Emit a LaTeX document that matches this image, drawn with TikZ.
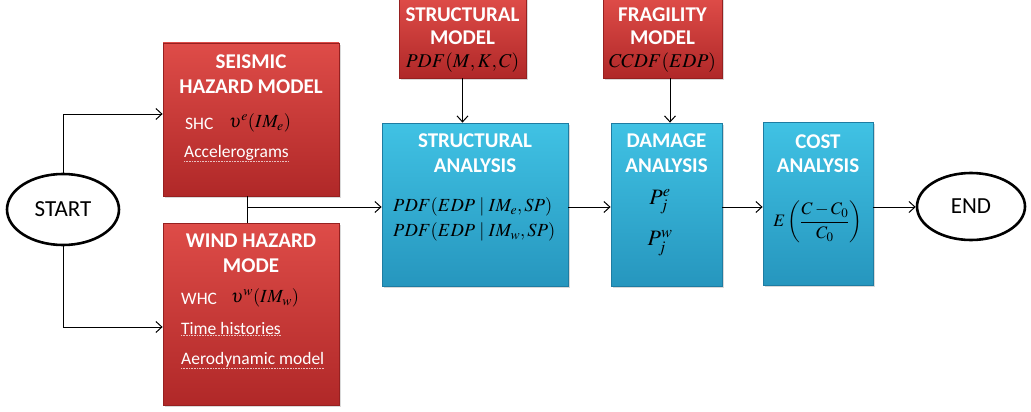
\documentclass[tikz,border=0pt]{standalone}
\usepackage{mathptmx}
\usepackage{fontspec}
\setmainfont{Carlito}
\usetikzlibrary{arrows.meta,shadows,shapes.geometric}

\definecolor{redtop}{RGB}{222,76,72}
\definecolor{redbot}{RGB}{176,40,40}
\definecolor{redline}{RGB}{150,32,32}
\definecolor{bluetop}{RGB}{64,194,228}
\definecolor{bluebot}{RGB}{38,150,190}
\definecolor{blueline}{RGB}{30,124,162}

\begin{document}
\begin{tikzpicture}[x=1pt,y=-1pt,
  redbox/.style={rectangle, inner sep=0pt, top color=redtop, bottom color=redbot,
    draw=redline, line width=0.8pt,
    drop shadow={opacity=0.3, shadow xshift=1.5pt, shadow yshift=-2pt}},
  bluebox/.style={rectangle, inner sep=0pt, top color=bluetop, bottom color=bluebot,
    draw=blueline, line width=0.8pt,
    drop shadow={opacity=0.3, shadow xshift=1.5pt, shadow yshift=-2pt}},
  term/.style={ellipse, draw=black, line width=2.6pt, fill=white, inner sep=0pt,
    font=\fontsize{23}{26}\selectfont},
  ttl/.style={text=white, font=\fontsize{21}{24}\bfseries\selectfont, inner sep=0pt},
  lbl/.style={text=white, font=\fontsize{17.5}{20}\selectfont, inner sep=0pt, anchor=west},
  mth/.style={text=black, font=\fontsize{18.5}{21}\selectfont, inner sep=0pt},
  uline/.style={white, densely dotted, line width=0.6pt, opacity=0.7},
  conn/.style={draw=black, line width=1pt},
  arr/.style={conn, -{Straight Barb[length=6pt,width=11pt]}}
]
\useasboundingbox (0,0) rectangle (1031,412);

% boxes
\node[redbox, minimum width=176pt, minimum height=153pt] (seis) at (251,119.5) {};
\node[redbox, minimum width=176pt, minimum height=182pt] (wind) at (251,314) {};
\node[redbox, minimum width=127pt, minimum height=80pt] (smod) at (462.5,38) {};
\node[redbox, minimum width=119pt, minimum height=80pt] (fmod) at (662.5,38) {};
\node[bluebox, minimum width=186pt, minimum height=163pt] (sa) at (475,204.5) {};
\node[bluebox, minimum width=111pt, minimum height=163pt] (da) at (666.5,204.5) {};
\node[bluebox, minimum width=110pt, minimum height=163pt] (ca) at (818,203.5) {};

\node[term, minimum width=112pt, minimum height=71pt] (start) at (63,209.5) {START};
\node[term, minimum width=108pt, minimum height=67pt] (end) at (971,206.5) {END};

% seismic text
\node[ttl] (seisT1) at (251,62) {SEISMIC};
\node[ttl] (seisT2) at (251,87) {HAZARD MODEL};
\node[lbl] (shc) at (185,124) {SHC};
\node[mth, anchor=west] (shcm) at (229,123) {$\upsilon^{e}(IM_{e})$};
\node[lbl] (acc) at (184,153) {Accelerograms};
\draw[uline] ([yshift=-1pt]acc.south west) -- ([yshift=-1pt]acc.south east);

% wind text
\node[ttl] (windT1) at (251,241) {WIND HAZARD};
\node[ttl] (windT2) at (251,266) {MODE};
\node[lbl] (whc) at (181,299) {WHC};
\node[mth, anchor=west] (whcm) at (231,298) {$\upsilon^{w}(IM_{w})$};
\node[lbl] (th) at (181,328) {Time histories};
\node[lbl] (aero) at (181,360) {Aerodynamic model};
\draw[uline] ([yshift=-1pt]th.south west) -- ([yshift=-1pt]th.south east);
\draw[uline] ([yshift=-1pt]aero.south west) -- ([yshift=-1pt]aero.south east);

% structural model text
\node[ttl] (smT1) at (462.5,15) {STRUCTURAL};
\node[ttl] (smT2) at (462.5,38) {MODEL};
\node[mth, font=\fontsize{19.5}{22}\selectfont] (smM) at (462.5,63) {$PDF(M,K,C)$};

% fragility model text
\node[ttl] (fmT1) at (662.5,15) {FRAGILITY};
\node[ttl] (fmT2) at (662.5,38) {MODEL};
\node[mth, font=\fontsize{19.5}{22}\selectfont] (fmM) at (662.5,63) {$CCDF(EDP)$};

% structural analysis text
\node[ttl] (saT1) at (475,141) {STRUCTURAL};
\node[ttl] (saT2) at (475,166) {ANALYSIS};
\node[mth, anchor=west] (saM1) at (393,207) {$PDF(EDP\mid IM_{e},SP)$};
\node[mth, anchor=west] (saM2) at (393,232) {$PDF(EDP\mid IM_{w},SP)$};

% damage analysis text
\node[ttl] (daT1) at (666.5,141) {DAMAGE};
\node[ttl] (daT2) at (666.5,166) {ANALYSIS};
\node[mth, font=\fontsize{22}{24}\selectfont] (daM1) at (660,202) {$P_{j}^{e}$};
\node[mth, font=\fontsize{22}{24}\selectfont] (daM2) at (660,243) {$P_{j}^{w}$};

% cost analysis text
\node[ttl] (caT1) at (818,142) {COST};
\node[ttl] (caT2) at (818,166) {ANALYSIS};
\node[mth, font=\fontsize{17.5}{20}\selectfont] (caM) at (818,222) {$\displaystyle E\left(\frac{C-C_{0}}{C_{0}}\right)$};

% connectors
\coordinate (j) at (247,207);
\draw[arr] (start.north) |- ([yshift=5.5pt]seis.west);
\draw[arr] (start.south) |- ([yshift=-13pt]wind.west);
\draw[conn] ([xshift=-4pt]seis.south) -- ([xshift=-4pt]wind.north);
\draw[arr] (j) -- (sa.west |- j);
\draw[arr] (smod.south) -- (smod.south |- sa.north);
\draw[arr] ([xshift=7.5pt]fmod.south) -- ([xshift=7.5pt]fmod.south |- da.north);
\draw[arr] (sa.east |- j) -- (da.west |- j);
\draw[arr] (da.east |- j) -- (ca.west |- j);
\draw[arr] (ca.east |- j) -- (end.west |- j);
\end{tikzpicture}
\end{document}
